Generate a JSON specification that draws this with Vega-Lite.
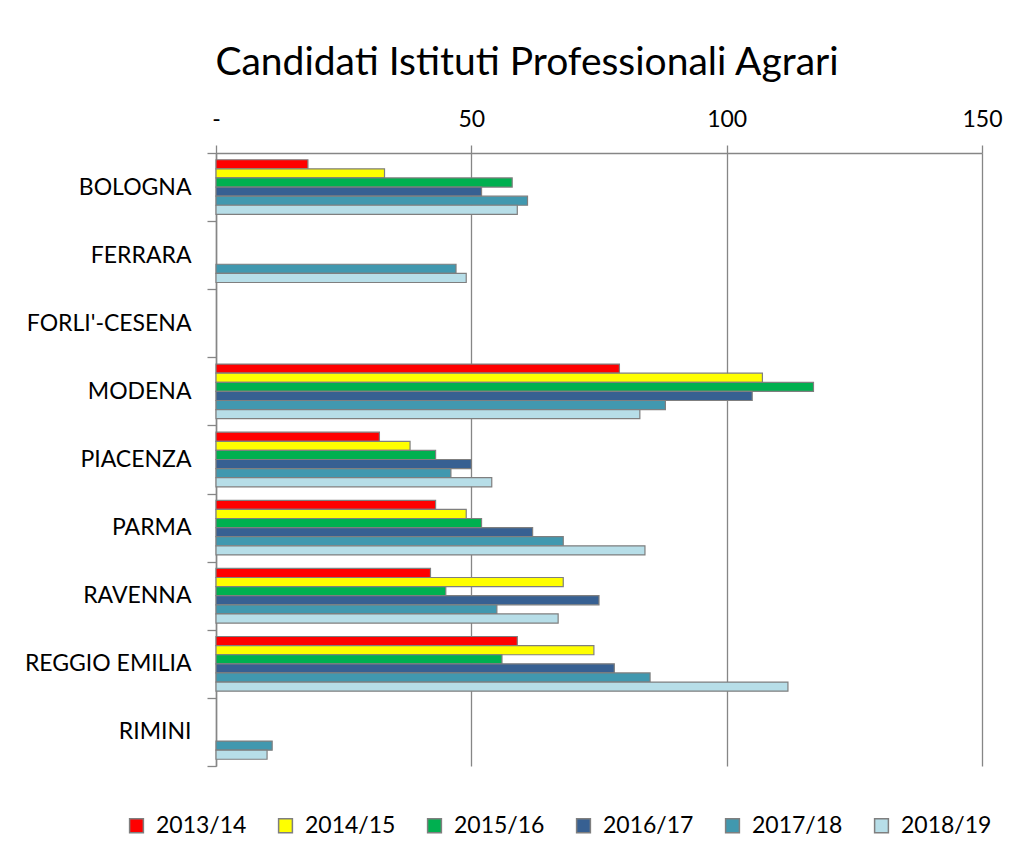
{
  "$schema": "https://vega.github.io/schema/vega-lite/v6.json",
  "width": 766,
  "height": 613,
  "autosize": {"type": "none"},
  "padding": {"left": 216, "top": 153, "right": 45, "bottom": 85},
  "background": "white",
  "title": {
    "text": "Candidati Istituti Professionali Agrari",
    "font": "Lato",
    "fontSize": 39,
    "fontWeight": "normal",
    "color": "#000000",
    "anchor": "middle",
    "dx": -72,
    "offset": 25
  },
  "data": {
    "values": [
      {"provincia": "BOLOGNA", "anno": "2013/14", "candidati": 18},
      {"provincia": "BOLOGNA", "anno": "2014/15", "candidati": 33},
      {"provincia": "BOLOGNA", "anno": "2015/16", "candidati": 58},
      {"provincia": "BOLOGNA", "anno": "2016/17", "candidati": 52},
      {"provincia": "BOLOGNA", "anno": "2017/18", "candidati": 61},
      {"provincia": "BOLOGNA", "anno": "2018/19", "candidati": 59},
      {"provincia": "FERRARA", "anno": "2017/18", "candidati": 47},
      {"provincia": "FERRARA", "anno": "2018/19", "candidati": 49},
      {"provincia": "MODENA", "anno": "2013/14", "candidati": 79},
      {"provincia": "MODENA", "anno": "2014/15", "candidati": 107},
      {"provincia": "MODENA", "anno": "2015/16", "candidati": 117},
      {"provincia": "MODENA", "anno": "2016/17", "candidati": 105},
      {"provincia": "MODENA", "anno": "2017/18", "candidati": 88},
      {"provincia": "MODENA", "anno": "2018/19", "candidati": 83},
      {"provincia": "PIACENZA", "anno": "2013/14", "candidati": 32},
      {"provincia": "PIACENZA", "anno": "2014/15", "candidati": 38},
      {"provincia": "PIACENZA", "anno": "2015/16", "candidati": 43},
      {"provincia": "PIACENZA", "anno": "2016/17", "candidati": 50},
      {"provincia": "PIACENZA", "anno": "2017/18", "candidati": 46},
      {"provincia": "PIACENZA", "anno": "2018/19", "candidati": 54},
      {"provincia": "PARMA", "anno": "2013/14", "candidati": 43},
      {"provincia": "PARMA", "anno": "2014/15", "candidati": 49},
      {"provincia": "PARMA", "anno": "2015/16", "candidati": 52},
      {"provincia": "PARMA", "anno": "2016/17", "candidati": 62},
      {"provincia": "PARMA", "anno": "2017/18", "candidati": 68},
      {"provincia": "PARMA", "anno": "2018/19", "candidati": 84},
      {"provincia": "RAVENNA", "anno": "2013/14", "candidati": 42},
      {"provincia": "RAVENNA", "anno": "2014/15", "candidati": 68},
      {"provincia": "RAVENNA", "anno": "2015/16", "candidati": 45},
      {"provincia": "RAVENNA", "anno": "2016/17", "candidati": 75},
      {"provincia": "RAVENNA", "anno": "2017/18", "candidati": 55},
      {"provincia": "RAVENNA", "anno": "2018/19", "candidati": 67},
      {"provincia": "REGGIO EMILIA", "anno": "2013/14", "candidati": 59},
      {"provincia": "REGGIO EMILIA", "anno": "2014/15", "candidati": 74},
      {"provincia": "REGGIO EMILIA", "anno": "2015/16", "candidati": 56},
      {"provincia": "REGGIO EMILIA", "anno": "2016/17", "candidati": 78},
      {"provincia": "REGGIO EMILIA", "anno": "2017/18", "candidati": 85},
      {"provincia": "REGGIO EMILIA", "anno": "2018/19", "candidati": 112},
      {"provincia": "RIMINI", "anno": "2017/18", "candidati": 11},
      {"provincia": "RIMINI", "anno": "2018/19", "candidati": 10}
    ]
  },
  "mark": {"type": "bar", "stroke": "#7F7F7F", "strokeWidth": 1.2},
  "encoding": {
    "y": {
      "field": "provincia",
      "type": "nominal",
      "sort": ["BOLOGNA", "FERRARA", "FORLI'-CESENA", "MODENA", "PIACENZA", "PARMA", "RAVENNA", "REGGIO EMILIA", "RIMINI"],
      "scale": {"domain": ["BOLOGNA", "FERRARA", "FORLI'-CESENA", "MODENA", "PIACENZA", "PARMA", "RAVENNA", "REGGIO EMILIA", "RIMINI"], "paddingInner": 0, "paddingOuter": 0},
      "axis": {
        "title": null,
        "grid": false,
        "domainColor": "#868686",
        "domainWidth": 1.5,
        "tickBand": "extent",
        "tickColor": "#868686",
        "tickSize": 9,
        "tickWidth": 1.3,
        "labelFont": "Lato",
        "labelFontSize": 23,
        "labelColor": "#000000",
        "labelPadding": 16
      }
    },
    "yOffset": {
      "field": "anno",
      "type": "nominal",
      "sort": ["2013/14", "2014/15", "2015/16", "2016/17", "2017/18", "2018/19"],
      "scale": {"domain": ["2013/14", "2014/15", "2015/16", "2016/17", "2017/18", "2018/19"], "paddingInner": 0, "paddingOuter": 0.74}
    },
    "x": {
      "field": "candidati",
      "type": "quantitative",
      "scale": {"domain": [0, 150], "nice": false},
      "axis": {
        "orient": "top",
        "title": null,
        "values": [0, 50, 100, 150],
        "labelExpr": "datum.value == 0 ? '-\u00a0\u00a0\u00a0\u00a0' : datum.label",
        "labelFlush": false,
        "labelOverlap": false,
        "grid": true,
        "gridColor": "#868686",
        "gridWidth": 1.3,
        "domainColor": "#868686",
        "domainWidth": 1.5,
        "tickColor": "#868686",
        "tickSize": 8,
        "tickWidth": 1.3,
        "labelFont": "Lato",
        "labelFontSize": 23,
        "labelColor": "#000000",
        "labelPadding": 14
      }
    },
    "color": {
      "field": "anno",
      "type": "nominal",
      "scale": {
        "domain": ["2013/14", "2014/15", "2015/16", "2016/17", "2017/18", "2018/19"],
        "range": ["#FF0000", "#FFFF00", "#00B050", "#376092", "#4198AF", "#B7DEE8"]
      },
      "legend": {
        "title": null,
        "orient": "none",
        "direction": "horizontal",
        "legendX": -91,
        "legendY": 661,
        "symbolType": "square",
        "symbolSize": 190,
        "symbolStrokeColor": "#7F7F7F",
        "symbolStrokeWidth": 1.5,
        "symbolOpacity": 1,
        "labelFont": "Lato",
        "labelFontSize": 23,
        "labelColor": "#000000",
        "labelOffset": 8,
        "columnPadding": 27
      }
    }
  },
  "config": {
    "view": {"stroke": null}
  }
}
